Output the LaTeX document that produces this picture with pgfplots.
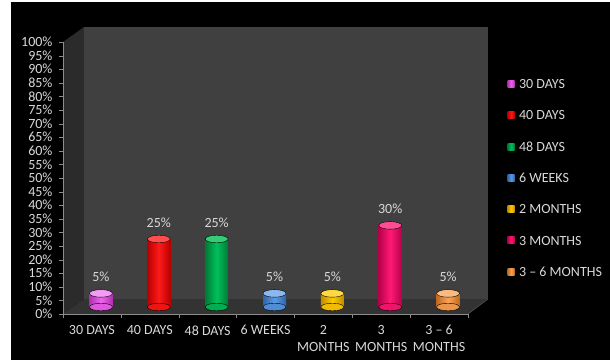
\documentclass[border=0pt]{standalone}
\usepackage{fontspec}
\setmainfont{Carlito}
\usepackage{pgfplots}
\pgfplotsset{compat=1.18}
\definecolor{wallc}{HTML}{404040}
\definecolor{sidec}{HTML}{2B2B2B}
\definecolor{floorc}{HTML}{333333}
\definecolor{axisc}{HTML}{8C8C8C}
\definecolor{labelc}{HTML}{D9D9D9}
\definecolor{pinkc}{HTML}{EE66EE}
\definecolor{pinkd}{HTML}{B030B0}
\definecolor{pinkl}{HTML}{F59AF5}
\definecolor{redc}{HTML}{FF1A1A}
\definecolor{redd}{HTML}{B80000}
\definecolor{redl}{HTML}{FF4D4D}
\definecolor{greenc}{HTML}{00C05A}
\definecolor{greend}{HTML}{007A36}
\definecolor{greenl}{HTML}{33CC77}
\definecolor{bluec}{HTML}{5B9BE6}
\definecolor{blued}{HTML}{2F64A8}
\definecolor{bluel}{HTML}{8AB8F0}
\definecolor{goldc}{HTML}{FFCC00}
\definecolor{goldd}{HTML}{C08C00}
\definecolor{goldl}{HTML}{FFD940}
\definecolor{crimc}{HTML}{FF1A75}
\definecolor{crimd}{HTML}{B8004A}
\definecolor{criml}{HTML}{FF4D94}
\definecolor{orc}{HTML}{F9A55A}
\definecolor{ord}{HTML}{C06A20}
\definecolor{orl}{HTML}{FBBB80}
\newcommand{\lblfont}{\fontsize{14}{17}\selectfont}
% #1 x, #2 value, #3 main colour, #4 dark edge, #5 light top
\newcommand{\cyl}[5]{%
\addplot[forget plot, only marks, mark=*, mark size=11.5pt,
  mark options={yscale=0.33, draw=none, fill=#3!75!#4}]
  coordinates {(#1,0)};
\addplot[ybar, bar width=23pt, bar shift=0pt, draw=none,
  left color=#4, right color=#4, middle color=#3,
  nodes near coords={\pgfmathprintnumber{\pgfplotspointmeta}\%}]
  coordinates {(#1,#2)};
\addplot[forget plot, only marks, mark=*, mark size=11.5pt,
  mark options={yscale=0.33, draw=none, fill=#5}]
  coordinates {(#1,#2)};
}
\begin{document}
\begin{tikzpicture}[x=1pt,y=1pt]
\fill[black] (0,0) rectangle (610,360);
\useasboundingbox (0,0) rectangle (610,360);
\fill[white] (0,0) rectangle (11,360);
\fill[white] (0,358) rectangle (610,360);
\fill[sidec] (63,46) -- (63,318) -- (84,333) -- (84,61) -- cycle;
\fill[wallc] (84,61) rectangle (488,333);
\fill[floorc] (63,46) -- (468,46) -- (488,61) -- (84,61) -- cycle;
\draw[axisc!70!black] (468,46) -- (488,61);
\begin{axis}[
  at={(63pt,46pt)}, anchor=south west, scale only axis,
  width=405pt, height=272pt,
  xmin=-0.5, xmax=6.5, ymin=0, ymax=100,
  axis lines*=left, axis line style={draw=axisc},
  /pgf/number format/assume math mode=true,
  ytick={0,5,...,100},
  yticklabel={\pgfmathprintnumber{\tick}\%},
  tick align=outside, major tick length=4pt, minor tick length=4pt,
  tick style={draw=axisc},
  major x tick style={draw=none},
  xtick={0,...,6},
  minor xtick={-0.5,0.5,...,6.5},
  xticklabels={30 DAYS, 40 DAYS, 48 DAYS, 6 WEEKS, {2\\MONTHS}, {3\\MONTHS}, {3 -- 6\\MONTHS}},
  tick label style={font=\lblfont, text=labelc},
  xticklabel style={align=center, yshift=-4pt},
  yticklabel style={xshift=-3pt},
]
\addplot[draw=none, forget plot] coordinates {(0,0)};
\end{axis}
\begin{axis}[
  at={(72pt,53pt)}, anchor=south west, scale only axis,
  width=405pt, height=272pt,
  xmin=-0.5, xmax=6.5, ymin=0, ymax=100,
  hide axis, clip=false,
  /pgf/number format/assume math mode=true,
  every node near coord/.append style={font=\lblfont, text=labelc, yshift=8pt},
  legend image code/.code={\draw[#1, draw=none] (0pt,-3.5pt) rectangle (7pt,3.5pt); \path (0pt,0pt) -- (10pt,0pt);},
  legend cell align=left,
  legend style={at={(1.075,0.842)}, anchor=north west, draw=none, fill=none,
    inner sep=0pt, font=\lblfont, text=labelc, row sep=19pt,
    nodes={inner sep=1.5pt, text depth=0pt}},
]
\cyl{0}{5}{pinkc}{pinkd}{pinkl}
\cyl{1}{25}{redc}{redd}{redl}
\cyl{2}{25}{greenc}{greend}{greenl}
\cyl{3}{5}{bluec}{blued}{bluel}
\cyl{4}{5}{goldc}{goldd}{goldl}
\cyl{5}{30}{crimc}{crimd}{criml}
\cyl{6}{5}{orc}{ord}{orl}
\legend{30 DAYS, 40 DAYS, 48 DAYS, 6 WEEKS, 2 MONTHS, 3 MONTHS, 3 -- 6 MONTHS}
\end{axis}
\end{tikzpicture}
\end{document}
